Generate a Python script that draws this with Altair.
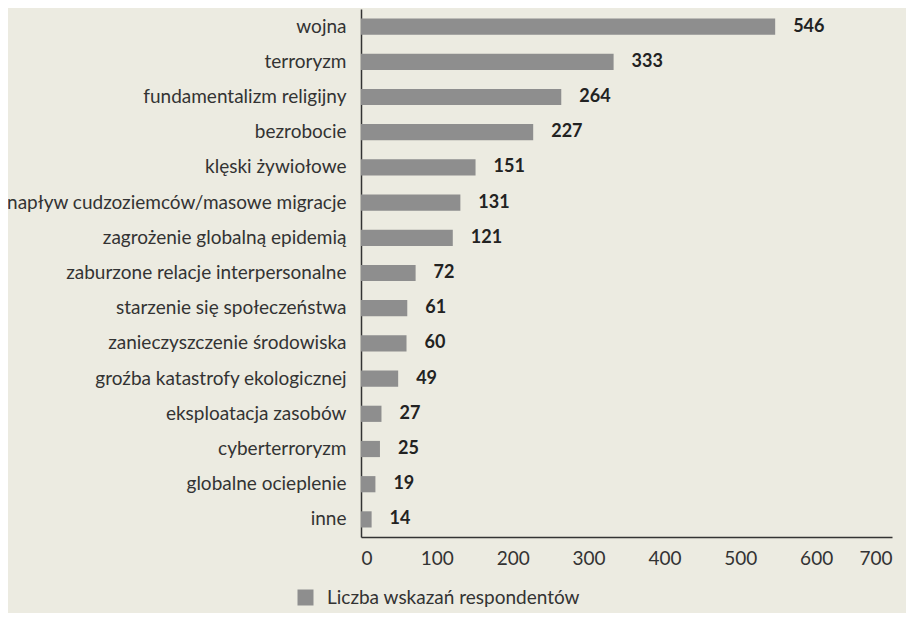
import altair as alt
import pandas as pd

categories = [
    "wojna", "terroryzm", "fundamentalizm religijny", "bezrobocie",
    "klęski żywiołowe", "napływ cudzoziemców/masowe migracje",
    "zagrożenie globalną epidemią", "zaburzone relacje interpersonalne",
    "starzenie się społeczeństwa", "zanieczyszczenie środowiska",
    "groźba katastrofy ekologicznej", "eksploatacja zasobów",
    "cyberterroryzm", "globalne ocieplenie", "inne",
]
values = [546, 333, 264, 227, 151, 131, 121, 72, 61, 60, 49, 27, 25, 19, 14]
series_name = "Liczba wskazań respondentów"
x_ticks = [0, 100, 200, 300, 400, 500, 600, 700]

df = pd.DataFrame({"kategoria": categories, "wartosc": values, "seria": series_name})

FONT = "Lato"
BG = "#ecebe1"
BAR = "#8e8e8e"
TXT = "#333333"

base = alt.Chart(df)

y_enc = alt.Y(
    "kategoria:N",
    sort=categories,
    title=None,
    scale=alt.Scale(paddingInner=0.54, paddingOuter=0.27),
    axis=alt.Axis(
        labelFont=FONT, labelFontSize=19, labelColor=TXT,
        labelPadding=15, ticks=False, domainColor="#333333", domainWidth=1.5,
        labelLimit=400,
    ),
)
x_enc = alt.X(
    "wartosc:Q",
    title=None,
    scale=alt.Scale(domain=[0, 700], nice=False),
    axis=alt.Axis(
        values=x_ticks, labelFont=FONT, labelFontSize=19, labelColor=TXT,
        labelPadding=12, ticks=False, grid=False, domainColor="#333333",
        domainWidth=1.5,
    ),
)

bars = base.mark_bar(color=BAR).encode(
    y=y_enc,
    x=x_enc,
    color=alt.Color(
        "seria:N",
        scale=alt.Scale(range=[BAR]),
        legend=alt.Legend(
            title=None, orient="none", legendX=-65, legendY=579,
            symbolType="square", symbolSize=256, symbolStrokeWidth=0,
            labelFont=FONT, labelFontSize=19, labelColor=TXT,
            labelOffset=12, labelLimit=400,
        ),
    ),
)

labels = base.mark_text(
    align="left", baseline="middle", dx=18, font=FONT, fontSize=18,
    fontWeight="bold", color="#222222",
).encode(
    y=alt.Y("kategoria:N", sort=categories),
    x=alt.X("wartosc:Q"),
    text=alt.Text("wartosc:Q"),
)

chart = (
    alt.layer(bars, labels)
    .properties(
        width=531, height=528, background=BG,
        autosize=alt.AutoSizeParams(type="none"),
        padding={"left": 353, "top": 1, "right": 14, "bottom": 76},
    )
    .configure_view(stroke=None)
)

chart.save("out.html", embed_options={"renderer": "svg", "actions": False})
